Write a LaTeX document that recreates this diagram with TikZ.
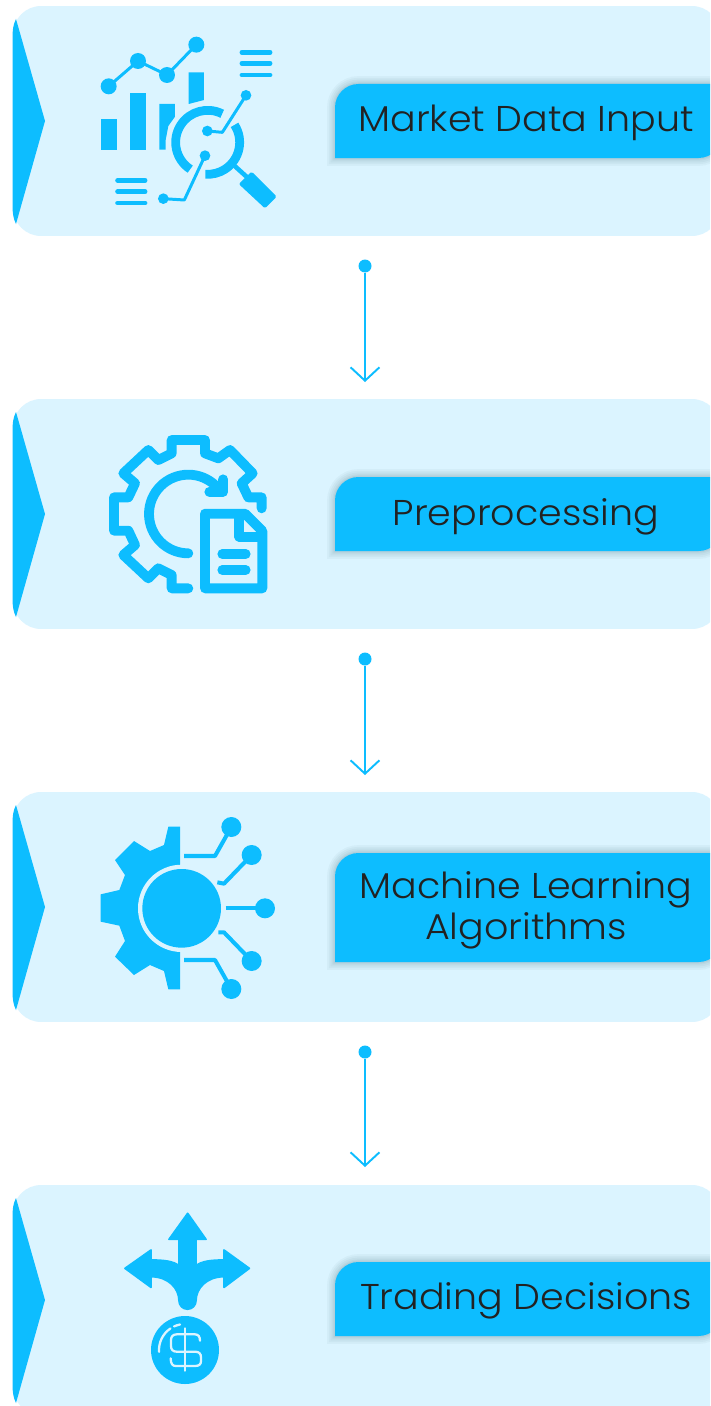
\documentclass[tikz,border=0pt]{standalone}
\usepackage{fontspec}
\newfontfamily\labelfont[FakeStretch=1.06]{Poppins Light}
\usepackage{xcolor}
\usepackage{tikz}
\usetikzlibrary{arrows.meta}
\definecolor{accent}{HTML}{0DBDFF}
\definecolor{cardbg}{HTML}{DBF4FF}
\definecolor{inktext}{HTML}{222222}
\tikzstyle{cardbox} = [rectangle, fill=cardbg, rounded corners=0.56cm, minimum width=14.14cm, minimum height=4.6cm, inner sep=0pt]
\tikzstyle{tabshade} = [fill=accent, line join=round,
  preaction={draw=black!70!accent, draw opacity=0.035, line width=9pt},
  preaction={draw=black!70!accent, draw opacity=0.035, line width=7pt},
  preaction={draw=black!70!accent, draw opacity=0.04, line width=5pt},
  preaction={draw=black!70!accent, draw opacity=0.04, line width=3pt},
  preaction={draw=black!70!accent, draw opacity=0.05, line width=1.5pt}]
\tikzstyle{tabtext} = [text=inktext, font=\labelfont\fontsize{20.4}{23.5}\selectfont, align=center, inner sep=0pt]
\tikzstyle{dot} = [circle, fill=accent, inner sep=0pt, minimum size=0.26cm]
\tikzstyle{flow} = [draw=accent, line width=1.1pt, -{Straight Barb[length=7.6pt,width=16.4pt,line width=1.1pt]}]
\tikzstyle{trace} = [draw=accent, line width=1.7pt, line join=round]
\tikzstyle{outline} = [draw=accent, line width=5.6pt, line join=round, line cap=round]
\newcommand{\cardmark}[1]{\fill[accent] (16,19+#1) -- (45,121+#1) -- (16,224+#1) .. controls (13,218+#1) and (12.5,212+#1) .. (12.5,205+#1) -- (12.5,40+#1) .. controls (12.5,30+#1) and (13,25+#1) .. (16,19+#1) -- cycle;}
\begin{document}
\begin{tikzpicture}[x=0.02cm,y=-0.02cm]
\clip (0,0) rectangle (710,1406);
\fill[white] (0,0) rectangle (710,1406);
% cards
\node [cardbox] (market-card) at (366.5,121) {};
\node [cardbox] (prep-card) at (366.5,514) {};
\node [cardbox] (algo-card) at (366.5,907) {};
\node [cardbox] (trade-card) at (366.5,1300) {};
\cardmark{0}
\cardmark{393}
\cardmark{786}
\cardmark{1179}
% label tabs
\path [tabshade] (335,158) [rounded corners=0.47cm] -- (335,84) [sharp corners] -- (722,84) [rounded corners=0.47cm] -- (722,158) [sharp corners] -- cycle;
\path [tabshade] (335,551) [rounded corners=0.47cm] -- (335,477) [sharp corners] -- (722,477) [rounded corners=0.47cm] -- (722,551) [sharp corners] -- cycle;
\path [tabshade] (335,962) [rounded corners=0.47cm] -- (335,853) [sharp corners] -- (722,853) [rounded corners=0.47cm] -- (722,962) [sharp corners] -- cycle;
\path [tabshade] (335,1336) [rounded corners=0.47cm] -- (335,1262) [sharp corners] -- (722,1262) [rounded corners=0.47cm] -- (722,1336) [sharp corners] -- cycle;
\node [tabtext] (market) at (526,123) {Market Data Input};
\node [tabtext] (prep) at (526,517) {Preprocessing};
\node [tabtext] (algo) at (526,910) {Machine Learning\\Algorithms};
\node [tabtext] (trade) at (526,1301) {Trading Decisions};
% connectors
\node [dot] (start-a) at (365,266) {};
\coordinate (end-a) at (365,382);
\path [flow] (start-a) -- (end-a);
\node [dot] (start-b) at (365,659) {};
\coordinate (end-b) at (365,775);
\path [flow] (start-b) -- (end-b);
\node [dot] (start-c) at (365,1052) {};
\coordinate (end-c) at (365,1167);
\path [flow] (start-c) -- (end-c);
% chart icon
\begin{scope}[scale=1/3]
\fill[accent] (303,358) rectangle (350,449);
\fill[accent] (391,280) rectangle (438,449);
\fill[accent] (478,312) -- (525,312) -- (525,350) -- (505,378) -- (497,420) -- (497,449) -- (478,449) -- cycle;
\fill[accent] (566,217) -- (612,217) -- (612,300) -- (566,312) -- cycle;
\draw[trace] (326,259) -- (414,183) -- (501,225) -- (589,134);
\fill[accent] (326,259) circle [radius=24];
\fill[accent] (414,183) circle [radius=24];
\fill[accent] (501,225) circle [radius=24];
\fill[accent] (589,134) circle [radius=24];
\draw[accent, line width=2.8pt, line cap=round] (726,157) -- (810,157) (726,190) -- (810,190) (726,225) -- (810,225);
\draw[accent, line width=2.8pt, line cap=round] (353,541) -- (435,541) (353,575) -- (435,575) (353,609) -- (435,609);
\draw[accent, line width=5pt] ([shift=(123:96)]623,427) arc [start angle=123, end angle=297, radius=96];
\draw[accent, line width=5pt] ([shift=(-33:96)]623,427) arc [start angle=-33, end angle=94, radius=96];
\draw[accent, line width=2.6pt] (703,497) -- (745,535);
\fill[accent, draw=accent, line join=round, line width=2pt] (724,552) -- (755,522) -- (823,590) -- (795,618) -- cycle;
\draw[trace] (622,393) -- (667,397) -- (738,286);
\fill[accent] (622,393) circle [radius=16];
\fill[accent] (738,286) circle [radius=16];
\draw[trace] (615,467) -- (553,600) -- (490,596);
\fill[accent] (615,467) circle [radius=16];
\fill[accent] (490,596) circle [radius=16];
\end{scope}
% gear and document icon
\begin{scope}[shift={(80,420)},scale=1/3]
\draw[outline] (545,265) -- (545,232) -- (505,232) -- (485,190) -- (518,160) -- (450,90) -- (415,115) -- (375,100) -- (375,60) -- (275,60) -- (275,100) -- (235,120) -- (205,90) -- (130,160) -- (165,190) -- (145,232) -- (102,232) -- (102,332) -- (145,332) -- (165,375) -- (130,405) -- (205,475) -- (235,445) -- (275,465) -- (275,505) -- (325,505);
\draw[outline] ([shift=(90:118)]325,282) arc [start angle=90, end angle=314, radius=118];
\draw[outline] (388,215) -- (430,215) -- (430,178);
\draw[outline] (375,281) -- (495,281) -- (547,333) -- (547,505) -- (375,505) -- cycle;
\draw[outline] (478,285) -- (478,350) -- (540,350);
\draw[outline] (427,402) -- (497,402);
\draw[outline] (427,450) -- (497,450);
\end{scope}
% half gear icon
\begin{scope}[shift={(80,805)},scale=1/3]
\fill[accent] (300,65) -- (265,65) -- (252,120) -- (210,138) -- (162,108) -- (105,165) -- (135,210) -- (118,255) -- (62,268) -- (62,350) -- (118,362) -- (135,408) -- (105,455) -- (162,510) -- (210,480) -- (252,498) -- (265,553) -- (300,553) -- cycle;
\fill[cardbg] (305,310) circle [radius=131];
\fill[accent] (305,310) circle [radius=118];
\draw[trace, line width=2.3pt] (312,153) -- (405,153) -- (454,66);
\draw[trace, line width=2.3pt] (412,232) -- (432,236) -- (515,150);
\draw[trace, line width=2.3pt] (437,310) -- (555,310);
\draw[trace, line width=2.3pt] (415,382) -- (432,382) -- (515,468);
\draw[trace, line width=2.3pt] (312,465) -- (405,465) -- (454,552);
\fill[accent] (454,66) circle [radius=30];
\fill[accent] (515,150) circle [radius=30];
\fill[accent] (555,310) circle [radius=30];
\fill[accent] (515,468) circle [radius=30];
\fill[accent] (454,552) circle [radius=30];
\end{scope}
% split arrows and coin icon
\begin{scope}[shift={(100,1200)},scale=1/3]
\fill[accent, draw=accent, line join=round, line width=1pt] (237,118) -- (207,118) -- (263,40) -- (318,118) -- (288,118) -- (288,197) .. controls (305,183) and (335,180) .. (372,180) -- (372,150) -- (448,205) -- (372,262) -- (372,230) .. controls (320,230) and (288,265) .. (288,302) arc [start angle=0, end angle=180, radius=25.5] .. controls (237,265) and (205,230) .. (153,230) -- (153,262) -- (75,205) -- (153,150) -- (153,180) .. controls (190,180) and (220,183) .. (237,197) -- cycle;
\fill[accent] (255,450) circle [radius=102];
\draw[cardbg, line width=1.3pt, line cap=round] (300,422) .. controls (300,410) and (295,403) .. (285,403) -- (230,403) .. controls (219,403) and (213,410) .. (213,420) -- (213,438) .. controls (213,449) and (219,455) .. (230,455) -- (285,455) .. controls (297,455) and (303,461) .. (303,472) -- (303,483) .. controls (303,493) and (297,498) .. (285,498) -- (228,498) .. controls (218,498) and (212,492) .. (212,475);
\draw[cardbg, line width=1.3pt, line cap=round] (255,385) -- (255,512);
\draw[cardbg, line width=1.3pt, line cap=round] ([shift=(176:78)]255,450) arc [start angle=176, end angle=236, radius=78];
\draw[cardbg, line width=1.3pt, line cap=round] ([shift=(245:78)]255,450) arc [start angle=245, end angle=259, radius=78];
\end{scope}
\end{tikzpicture}
\end{document}
